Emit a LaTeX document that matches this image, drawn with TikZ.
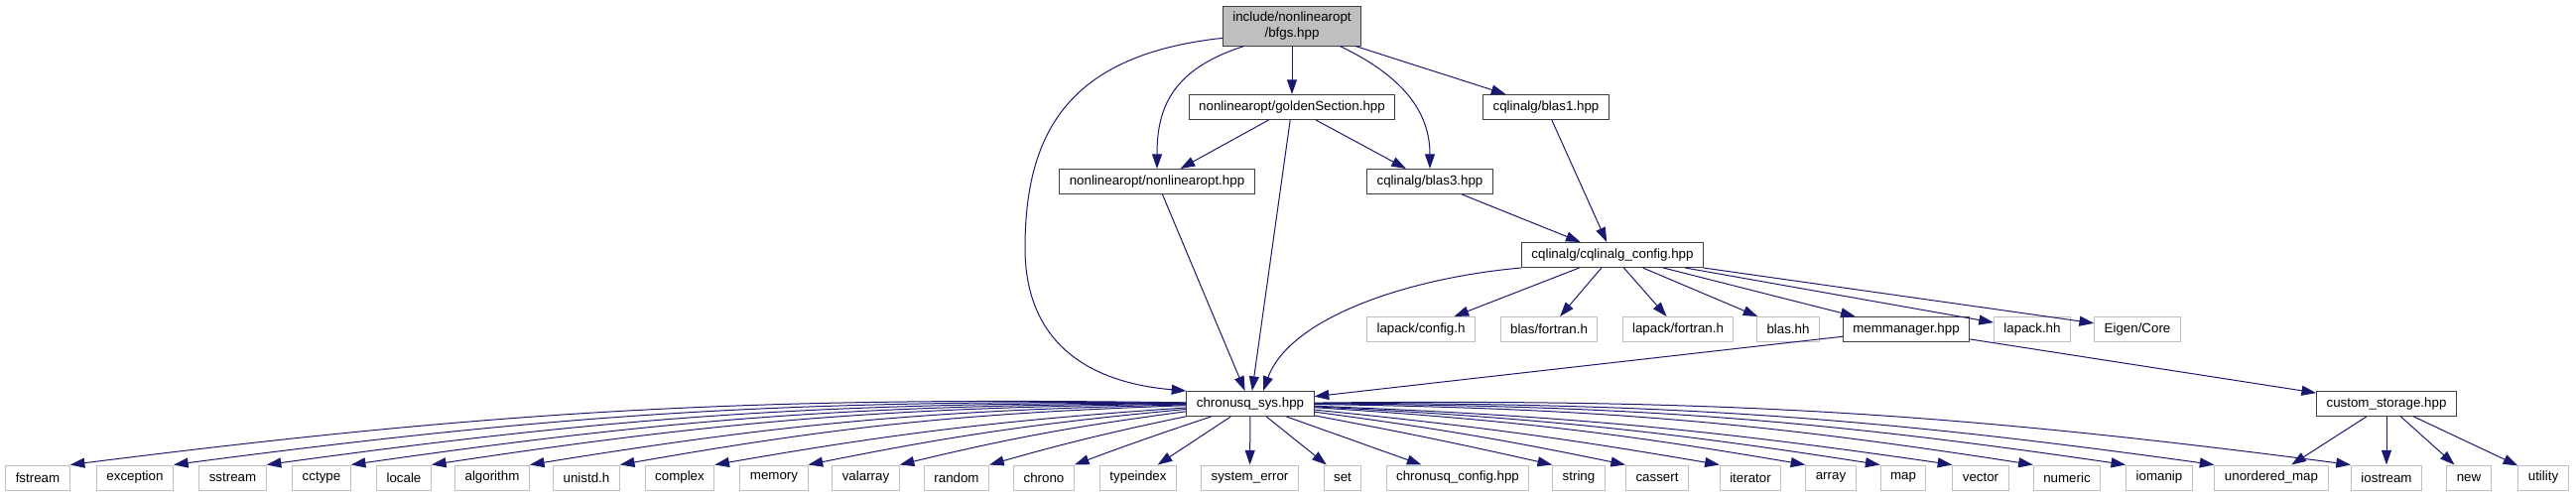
\documentclass[tikz,border=0pt]{standalone}
\usepackage{fontspec}
\setmainfont{Liberation Sans}
\usepackage{tikz}
\usetikzlibrary{arrows.meta}
\definecolor{incblue}{RGB}{25,25,112}
\definecolor{extgray}{RGB}{191,191,191}

\begin{document}
\begin{tikzpicture}[x=0.75pt, y=-0.75pt,
  box/.style={draw=#1, line width=0.75pt, minimum height=18.75pt,
    inner xsep=7.5pt, inner ysep=1pt, font=\fontsize{10}{12}\selectfont, align=center},
  box/.default=black!75,
  ext/.style={box=extgray},
  arr/.style={-{Triangle[length=11pt, width=7.5pt]}, line width=0.75pt, incblue}
]
\useasboundingbox (0,0) rectangle (2596,500);
\node[box, fill=extgray, minimum height=30pt] (bfgs) at (1302,26) {include/nonlinearopt\\/bfgs.hpp};
\node[box] (golden)    at (1302,108) {nonlinearopt/goldenSection.hpp};
\node[box] (blasone)   at (1558,108) {cqlinalg/blas1.hpp};
\node[box] (nlopt)     at (1166,183) {nonlinearopt/nonlinearopt.hpp};
\node[box] (blasthree) at (1441,183) {cqlinalg/blas3.hpp};
\node[box] (cqlcfg)    at (1625,257) {cqlinalg/cqlinalg\_config.hpp};
\node[ext] (lapcfg)    at (1432,332) {lapack/config.h};
\node[ext] (blasftn)   at (1561,332) {blas/fortran.h};
\node[ext] (lapftn)    at (1691,332) {lapack/fortran.h};
\node[ext] (blashh)    at (1802,332) {blas.hh};
\node[box] (memmgr)    at (1921,332) {memmanager.hpp};
\node[ext] (lapackhh)  at (2048,332) {lapack.hh};
\node[ext] (eigen)     at (2154,332) {Eigen/Core};
\node[box] (chrsys)    at (1260,407) {chronusq\_sys.hpp};
\node[box] (custst)    at (2405,407) {custom\_storage.hpp};
% system headers
\node[ext] (fstream)  at (38,481.5)   {fstream};
\node[ext] (except)   at (136,481.5)  {exception};
\node[ext] (sstream)  at (234.5,481.5) {sstream};
\node[ext] (cctype)   at (324,481.5)  {cctype};
\node[ext] (locale)   at (407,481.5)  {locale};
\node[ext] (algo)     at (496,481.5)  {algorithm};
\node[ext] (unistd)   at (591,481.5)  {unistd.h};
\node[ext] (complex)  at (685,481.5)  {complex};
\node[ext] (memory)   at (780,481.5)  {memory};
\node[ext] (valarray) at (872.5,481.5) {valarray};
\node[ext] (random)   at (964,481.5)  {random};
\node[ext] (chrono)   at (1052,481.5) {chrono};
\node[ext] (typeidx)  at (1147,481.5) {typeindex};
\node[ext] (syserr)   at (1259.5,481.5) {system\_error};
\node[ext] (set)      at (1353,481.5) {set};
\node[ext] (chrcfg)   at (1469,481.5) {chronusq\_config.hpp};
\node[ext] (string)   at (1591,481.5) {string};
\node[ext] (cassert)  at (1670,481.5) {cassert};
\node[ext] (iterator) at (1764,481.5) {iterator};
\node[ext] (array)    at (1845,481.5) {array};
\node[ext] (map)      at (1918,481.5) {map};
\node[ext] (vector)   at (1996,481.5) {vector};
\node[ext] (numeric)  at (2083,481.5) {numeric};
\node[ext] (iomanip)  at (2176,481.5) {iomanip};
\node[ext] (umap)     at (2289,481.5) {unordered\_map};
\node[ext] (iostream) at (2405,481.5) {iostream};
\node[ext] (new)      at (2488,481.5) {new};
\node[ext] (utility)  at (2563,481.5) {utility};
% includes of bfgs.hpp
\draw[arr] (bfgs.190) .. controls (1080,55) and (1033,130) .. (1033,250)
  .. controls (1033,340) and (1090,385) .. (chrsys.north west);
\draw[arr] (bfgs.203) .. controls (1180,70) and (1166,110) .. (nlopt.north);
\draw[arr] (bfgs) -- (golden);
\draw[arr] (bfgs.-23) .. controls (1410,75) and (1441,110) .. (blasthree.north);
\draw[arr] (bfgs) -- (blasone);
\draw[arr] (golden) -- (nlopt);
\draw[arr] (golden) -- (blasthree);
\draw[arr] (golden) -- (chrsys);
\draw[arr] (nlopt) -- (chrsys);
\draw[arr] (blasone) -- (cqlcfg);
\draw[arr] (blasthree) -- (cqlcfg);
% cqlinalg_config.hpp
\draw[arr] (cqlcfg.south west) .. controls (1420,280) and (1300,320) .. (chrsys.45);
\draw[arr] (cqlcfg) -- (lapcfg);
\draw[arr] (cqlcfg) -- (blasftn);
\draw[arr] (cqlcfg) -- (lapftn);
\draw[arr] (cqlcfg) -- (blashh);
\draw[arr] (cqlcfg) -- (memmgr);
\draw[arr] (cqlcfg) -- (lapackhh);
\draw[arr] (cqlcfg) -- (eigen);
\draw[arr] (memmgr) -- (chrsys);
\draw[arr] (memmgr) -- (custst);
\draw[arr] (custst) -- (umap);
\draw[arr] (custst) -- (iostream);
\draw[arr] (custst) -- (new);
\draw[arr] (custst) -- (utility);
% chronusq_sys.hpp fan
\draw[arr] (chrsys) to[bend right=4] (fstream.north east);
\draw[arr] (chrsys) to[bend right=4] (except.north east);
\draw[arr] (chrsys) to[bend right=4] (sstream.north east);
\draw[arr] (chrsys) to[bend right=4] (cctype.north east);
\draw[arr] (chrsys) to[bend right=4] (locale.north east);
\draw[arr] (chrsys) to[bend right=4] (algo.north east);
\draw[arr] (chrsys) to[bend right=4] (unistd.north east);
\draw[arr] (chrsys) to[bend right=3] (complex.north east);
\draw[arr] (chrsys) to[bend right=3] (memory.north east);
\draw[arr] (chrsys) to[bend right=3] (valarray.north east);
\draw[arr] (chrsys) to[bend right=2] (random.north east);
\draw[arr] (chrsys) to[bend right=1] (chrono.north east);
\draw[arr] (chrsys) -- (typeidx);
\draw[arr] (chrsys) -- (syserr);
\draw[arr] (chrsys) -- (set);
\draw[arr] (chrsys) -- (chrcfg);
\draw[arr] (chrsys) to[bend left=1] (string.north west);
\draw[arr] (chrsys) to[bend left=2] (cassert.north west);
\draw[arr] (chrsys) to[bend left=2] (iterator.north west);
\draw[arr] (chrsys) to[bend left=3] (array.north west);
\draw[arr] (chrsys) to[bend left=3] (map.north west);
\draw[arr] (chrsys) to[bend left=3] (vector.north west);
\draw[arr] (chrsys) to[bend left=4] (numeric.north west);
\draw[arr] (chrsys) to[bend left=4] (iomanip.north west);
\draw[arr] (chrsys) to[bend left=4] (umap.north west);
\draw[arr] (chrsys) to[bend left=4] (iostream.north west);
\end{tikzpicture}
\end{document}
